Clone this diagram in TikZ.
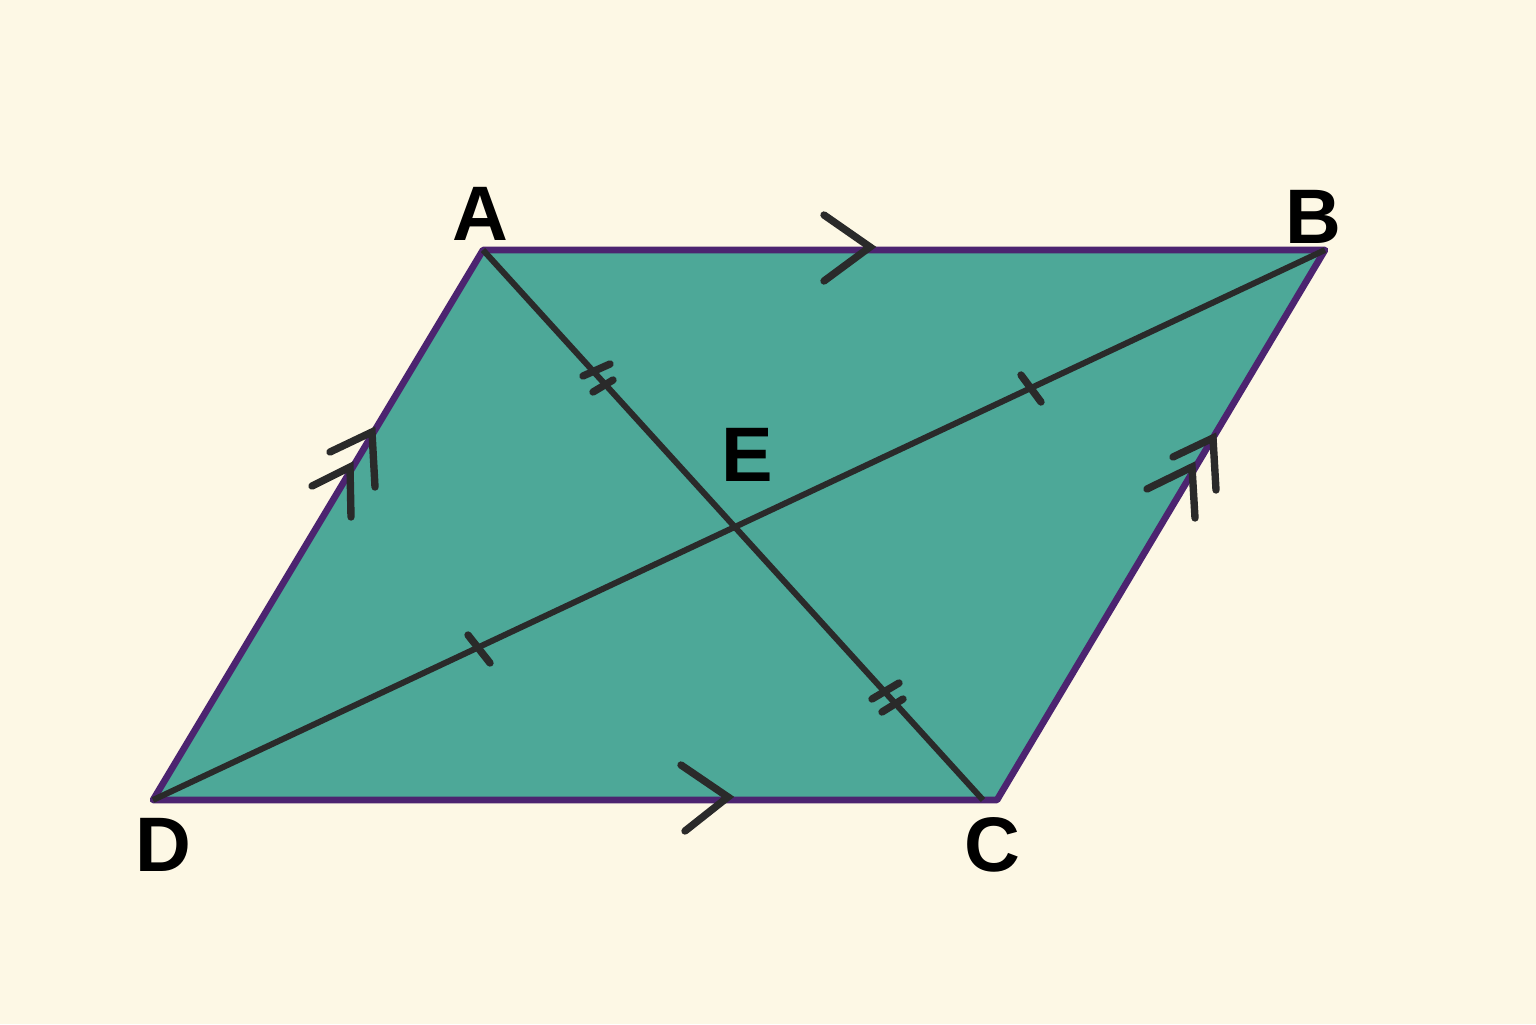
\documentclass[tikz,border=0pt]{standalone}
\usepackage{fontspec}
\setmainfont{Liberation Sans}
\definecolor{paper}{RGB}{253,248,229}
\definecolor{lawn}{RGB}{77,168,152}
\definecolor{rim}{RGB}{76,36,112}
\definecolor{ink}{RGB}{42,42,42}

\begin{document}
\begin{tikzpicture}[
        side/.style={draw=rim, line width=1.9pt, line join=round},
        diag/.style={draw=ink, line width=1.7pt},
        tick/.style={draw=ink, line width=2.1pt, line cap=round},
        lbl/.style={font=\fontsize{22}{22}\selectfont\bfseries, inner sep=0pt}
    ]
        \fill[paper] (0,0) rectangle (15.36,10.24);

        \coordinate (A) at (4.83,7.74);
        \coordinate (B) at (13.25,7.74);
        \coordinate (C) at (9.97,2.24);
        \coordinate (D) at (1.53,2.24);
        \coordinate (F) at (9.83,2.24);

        \filldraw[fill=lawn, side] (A) -- (B) -- (C) -- (D) -- cycle;

        \draw[diag] (A) -- (F);
        \draw[diag] (B) -- (D);
        \coordinate (E) at (intersection of A--F and B--D);

        % equal halves of the diagonals
        \draw[tick] (5.83,6.48) -- (6.10,6.60);
        \draw[tick] (5.93,6.32) -- (6.13,6.44);
        \draw[tick] (8.72,3.25) -- (8.99,3.41);
        \draw[tick] (8.82,3.12) -- (9.03,3.25);
        \draw[tick] (10.21,6.49) -- (10.41,6.22);
        \draw[tick] (4.68,3.89) -- (4.90,3.61);

        % parallel sides
        \draw[tick] (8.24,8.09) -- (8.70,7.77) -- (8.24,7.43);
        \draw[tick] (6.81,2.59) -- (7.28,2.27) -- (6.85,1.93);
        \draw[tick] (3.30,5.72) -- (3.72,5.92) -- (3.75,5.37);
        \draw[tick] (3.12,5.38) -- (3.50,5.57) -- (3.51,5.07);
        \draw[tick] (11.73,5.67) -- (12.13,5.86) -- (12.16,5.34);
        \draw[tick] (11.47,5.35) -- (11.92,5.57) -- (11.95,5.06);

        \node[lbl] (la) at (4.80,8.10) {A};
        \node[lbl] (lb) at (13.13,8.07) {B};
        \node[lbl] (lc) at (9.92,1.79) {C};
        \node[lbl] (ld) at (1.63,1.79) {D};
        \node[lbl] (le) at (7.47,5.69) {E};
\end{tikzpicture}
\end{document}
